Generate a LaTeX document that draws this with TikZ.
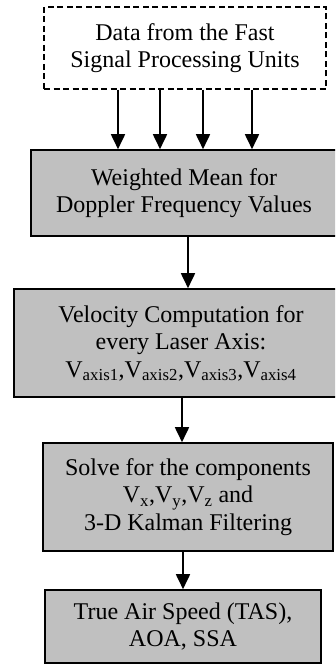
\documentclass[tikz,border=0pt]{standalone}
\usepackage{fontspec}
\setmainfont{Liberation Serif}
\usetikzlibrary{arrows.meta}
\definecolor{boxgray}{RGB}{192,192,192}
\tikzset{
  txt/.style={font=\fontsize{24}{27.5}\selectfont, align=center, inner sep=0pt},
  databox/.style={txt, draw=black, line width=1.5pt, dash pattern=on 6pt off 3.5pt},
  procbox/.style={txt, draw=black, fill=boxgray, line width=1.6pt},
  arr/.style={draw=black, line width=1.8pt, -{Triangle[width=14pt,length=15pt]}}
}
\begin{document}
\begin{tikzpicture}[x=1pt,y=-1pt]
\useasboundingbox (0,0) rectangle (335,666);
\clip (0,0) rectangle (335,666);
\node[databox, minimum width=282pt, minimum height=82pt] (b1) at (185,48)
  {Data from the Fast\\Signal Processing Units};
\node[procbox, minimum width=306pt, minimum height=86pt] (b2) at (184,193)
  {Weighted Mean for\\Doppler Frequency Values};
\node[procbox, minimum width=334pt, minimum height=108pt] (b3) at (181,343)
  {Velocity Computation for\\every Laser Axis:\\V\textsubscript{axis1},V\textsubscript{axis2},V\textsubscript{axis3},V\textsubscript{axis4}};
\node[procbox, minimum width=290pt, minimum height=108pt] (b4) at (188,497)
  {Solve for the components\\V\textsubscript{x},V\textsubscript{y},V\textsubscript{z} and\\3-D Kalman Filtering};
\node[procbox, minimum width=276pt, minimum height=73pt] (b5) at (183,626.5)
  {True Air Speed (TAS),\\AOA, SSA};
\coordinate (a1) at (118,0);
\coordinate (a2) at (160,0);
\coordinate (a3) at (203,0);
\coordinate (a4) at (252,0);
\coordinate (a5) at (188,0);
\coordinate (a6) at (182,0);
\coordinate (a7) at (183,0);
\draw[arr] (b1.south -| a1) -- (b2.north -| a1);
\draw[arr] (b1.south -| a2) -- (b2.north -| a2);
\draw[arr] (b1.south -| a3) -- (b2.north -| a3);
\draw[arr] (b1.south -| a4) -- (b2.north -| a4);
\draw[arr] (b2.south -| a5) -- (b3.north -| a5);
\draw[arr] (b3.south -| a6) -- (b4.north -| a6);
\draw[arr] (b4.south -| a7) -- (b5.north -| a7);
\end{tikzpicture}
\end{document}
